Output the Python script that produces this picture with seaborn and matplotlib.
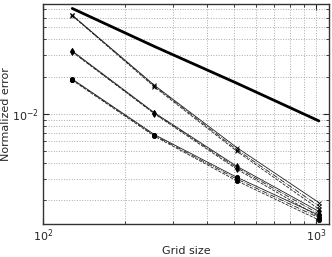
import numpy as np
import pandas as pd
import seaborn as sns
import matplotlib
matplotlib.use("Agg")
import matplotlib.pyplot as plt

# grid sizes
grid = [128, 256, 512, 1024]

# first-order reference slope
reference = [0.0710, 0.0350, 0.0177, 0.00877]

# three groups, each with three nearly overlapping runs
err_x_solid = [0.0626, 0.0170, 0.00535, 0.00192]
err_x_dash = [0.0620, 0.0165, 0.00500, 0.00170]
err_x_dashdot = [0.0623, 0.0168, 0.00515, 0.00180]

err_d_solid = [0.0322, 0.0102, 0.00378, 0.00163]
err_d_dash = [0.0316, 0.0100, 0.00358, 0.00148]
err_d_dashdot = [0.0319, 0.0101, 0.00368, 0.00156]

err_o_solid = [0.0191, 0.0068, 0.00308, 0.00152]
err_o_dash = [0.0187, 0.0066, 0.00288, 0.00139]
err_o_dashdot = [0.0189, 0.0067, 0.00298, 0.00145]

sns.set_style("ticks")
plt.rcParams['font.family'] = ['DejaVu Sans']

fig = plt.figure(figsize=(3.32, 2.57), dpi=100)
ax = fig.add_axes([0.1295, 0.130, 0.8615, 0.856])

series = [
    (err_x_solid, '-', 'x'), (err_x_dash, '--', 'x'), (err_x_dashdot, '-.', 'x'),
    (err_d_solid, '-', 'd'), (err_d_dash, '--', 'd'), (err_d_dashdot, '-.', 'd'),
    (err_o_solid, '-', 'o'), (err_o_dash, '--', 'o'), (err_o_dashdot, '-.', 'o'),
]
for vals, ls, mk in series:
    sns.lineplot(x=grid, y=vals, ax=ax, color='#222222', linewidth=0.6,
                 linestyle=ls, marker=mk, markersize=3,
                 markeredgecolor='black', markerfacecolor='black', markeredgewidth=0.6)

sns.lineplot(x=grid, y=reference, ax=ax, color='black', linewidth=2)

ax.set_xscale('log')
ax.set_yscale('log')
ax.set_xlim(100, 1115)
ax.set_ylim(1.3e-3, 0.0777)

ax.grid(True, which='both', linestyle=':', color='#aaaaaa', linewidth=0.7)
ax.tick_params(which='both', direction='in', top=True, right=True, labelsize=8, pad=3)
ax.tick_params(which='major', length=4)
ax.tick_params(which='minor', length=2)
for sp in ax.spines.values():
    sp.set_color('#333333')
    sp.set_linewidth(1)

ax.set_xlabel('Grid size', fontsize=8, labelpad=1)
ax.set_ylabel('Normalized error', fontsize=8, labelpad=1)

fig.savefig('out.png', dpi=100)
